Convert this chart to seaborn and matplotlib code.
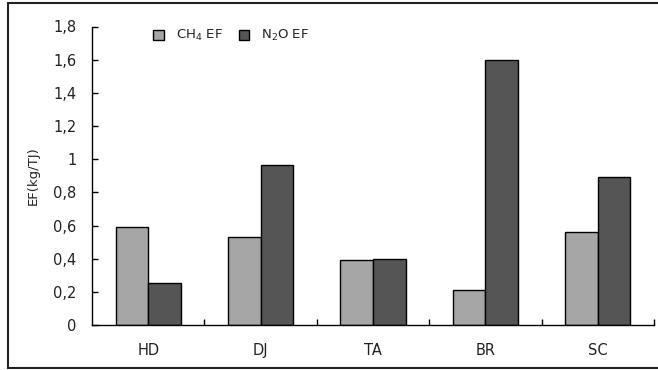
import pandas as pd
import seaborn as sns
import matplotlib.pyplot as plt
from matplotlib.ticker import FuncFormatter, FixedLocator
from matplotlib.lines import Line2D

sns.set_style("white")
plt.rcParams['font.family'] = ['DejaVu Sans']

sites = ['HD', 'DJ', 'TA', 'BR', 'SC']
ch4_ef = [0.59, 0.53, 0.39, 0.21, 0.56]
n2o_ef = [0.255, 0.965, 0.40, 1.595, 0.89]
series = ['CH$_4$ EF', 'N$_2$O EF']

df = pd.DataFrame({
    'site': sites * 2,
    'gas': [series[0]] * 5 + [series[1]] * 5,
    'ef': ch4_ef + n2o_ef,
})

fig = plt.figure(figsize=(6.58, 3.70), dpi=100)
ax = fig.add_axes([92 / 658, 1 - 325 / 370, (654 - 92) / 658, (325 - 26.5) / 370])

sns.barplot(data=df, x='site', y='ef', hue='gas', ax=ax,
            palette=['#a6a6a6', '#555555'], edgecolor='black', linewidth=1,
            width=0.58, saturation=1)

ax.set_xlim(-0.5, 4.5)
ax.set_ylim(0, 1.8)
ax.set_yticks([i * 0.2 for i in range(10)])
ax.yaxis.set_major_formatter(FuncFormatter(lambda v, p: ('%g' % round(v, 1)).replace('.', ',')))
ax.xaxis.set_minor_locator(FixedLocator([0.5, 1.5, 2.5, 3.5, 4.5]))
ax.tick_params(axis='x', which='major', length=0, pad=13, labelsize=10.5, labelcolor='#222222')
ax.tick_params(axis='x', which='minor', bottom=True, direction='in', length=4, width=1, color='black')
ax.tick_params(axis='y', which='major', left=True, direction='in', length=4, width=1,
               color='black', pad=11, labelsize=10.5, labelcolor='#222222')

sns.despine(ax=ax)
for s in ['left', 'bottom']:
    ax.spines[s].set_color('black')
    ax.spines[s].set_linewidth(1)

ax.set_xlabel('')
ax.set_ylabel('EF(kg/TJ)', fontsize=9.5, labelpad=10, color='#222222')

ax.legend(loc='upper left', bbox_to_anchor=(0.1, 1.012), ncol=2, frameon=False,
          fontsize=9.5, handlelength=0.8, handleheight=0.8, handletextpad=0.9,
          columnspacing=1.2, borderaxespad=0, labelcolor='#222222')

# outer frame
fig.add_artist(Line2D([8 / 658, 8 / 658], [1 - 368 / 370, 1 - 3 / 370], color='#222222', lw=1.5))
fig.add_artist(Line2D([8 / 658, 1], [1 - 3 / 370, 1 - 3 / 370], color='#222222', lw=1.5))
fig.add_artist(Line2D([8 / 658, 1], [1 - 368 / 370, 1 - 368 / 370], color='#222222', lw=1.5))

fig.savefig('out.png', dpi=100)
